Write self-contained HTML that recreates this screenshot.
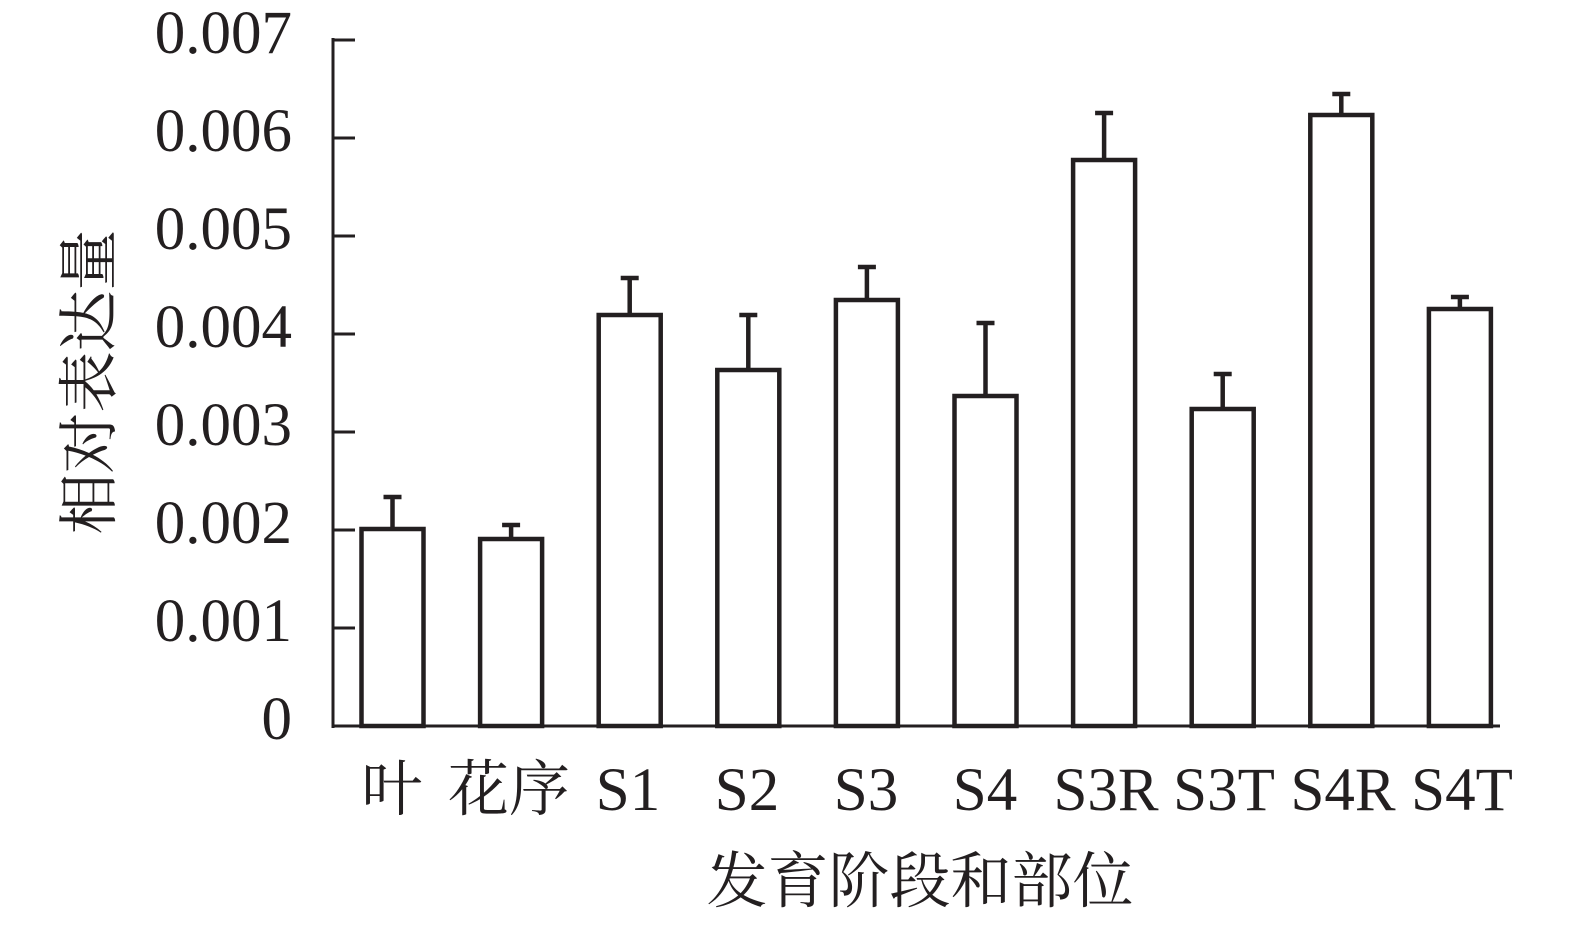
<!DOCTYPE html>
<html><head><meta charset="utf-8"><style>body{margin:0;background:#fff}</style></head><body>
<svg width="1575" height="923" xmlns="http://www.w3.org/2000/svg" font-family="'Liberation Serif','Noto Serif CJK SC',serif" fill="#231f20">
<g stroke="#231f20" stroke-width="3" fill="none">
<line x1="333" y1="38" x2="333" y2="728"/>
<line x1="332" y1="726" x2="1500" y2="726"/>
<line x1="333" y1="40" x2="355" y2="40"/>
<line x1="333" y1="138" x2="355" y2="138"/>
<line x1="333" y1="236" x2="355" y2="236"/>
<line x1="333" y1="334" x2="355" y2="334"/>
<line x1="333" y1="432" x2="355" y2="432"/>
<line x1="333" y1="530" x2="355" y2="530"/>
<line x1="333" y1="628" x2="355" y2="628"/>
</g>
<g font-size="61" text-anchor="end">
<text x="292" y="53">0.007</text>
<text x="292" y="151">0.006</text>
<text x="292" y="249">0.005</text>
<text x="292" y="347">0.004</text>
<text x="292" y="445">0.003</text>
<text x="292" y="543">0.002</text>
<text x="292" y="641">0.001</text>
<text x="292" y="739">0</text>
</g>
<g stroke="#231f20" stroke-width="4.5" fill="#fff" id="bars"></g>
<g font-size="61" text-anchor="middle">
<text x="392" y="810">叶</text>
<text x="509" y="810">花序</text>
<text x="628" y="810">S1</text>
<text x="747" y="810">S2</text>
<text x="866" y="810">S3</text>
<text x="985" y="810">S4</text>
<text x="1106" y="810">S3R</text>
<text x="1224" y="810">S3T</text>
<text x="1343" y="810">S4R</text>
<text x="1462" y="810">S4T</text>
<text x="920" y="902">发育阶段和部位</text>
<text transform="translate(110,382) rotate(-90)">相对表达量</text>
</g>
</svg>
<script>
var tops=[529,539,315,370,300,396,160,409,115,309],errs=[497,525,278,315,267,323,113,374,94,297];
var g=document.getElementById('bars'),ns='http://www.w3.org/2000/svg';
for(var i=0;i<10;i++){var c=392.5+118.6*i;
var e=document.createElementNS(ns,'path');e.setAttribute('d','M'+c+' '+tops[i]+'V'+errs[i]+'M'+(c-9)+' '+errs[i]+'H'+(c+9));e.setAttribute('fill','none');g.appendChild(e);
var r=document.createElementNS(ns,'rect');r.setAttribute('x',c-31);r.setAttribute('y',tops[i]);r.setAttribute('width',62);r.setAttribute('height',726-tops[i]);g.appendChild(r);}
</script>
</body></html>
